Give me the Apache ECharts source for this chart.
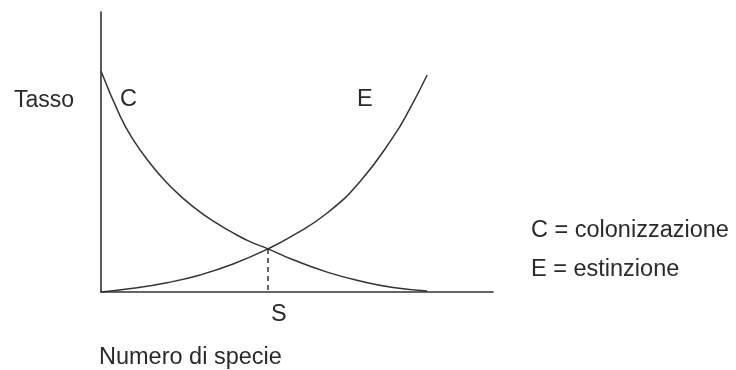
<!DOCTYPE html>
<html>
<head>
<meta charset="utf-8">
<script src="https://cdn.jsdelivr.net/npm/echarts@6/dist/echarts.min.js"></script>
<style>html,body{margin:0;padding:0;background:#fff}#c{width:736px;height:370px}</style>
</head>
<body>
<div id="c"></div>
<script>
// Colonizzazione (C): [numero di specie, tasso]
var colonizzazione = [[0,78.9],[4.85,62.9],[8.16,54.5],[12.5,46.0],[16.8,39.0],[20.9,33.5],[25.3,28.5],[29.6,24.5],[33.7,21.1],[38.0,18.0],[42.6,15.4],[49.0,11.5],[57.7,7.1],[66.1,3.9],[74.5,1.6],[83.2,0.4]];
// Estinzione (E)
var estinzione = [[0,0],[8.2,1.3],[16.8,3.3],[25.3,6.1],[33.7,10.0],[42.6,15.4],[49.0,20.2],[57.7,28.2],[66.1,39.5],[74.5,55.3],[78.8,65.5],[83.2,77.5]];
// Equilibrio S
var equilibrio = [[42.6,15.4],[42.6,0]];
var labels = {yName:'Tasso', xName:'Numero di specie', s:'S', c:'C', e:'E', legC:'C = colonizzazione', legE:'E = estinzione'};

var FONT = '23.5px "Liberation Sans", Arial, sans-serif';
var TXT = '#2a2a2a';
var chart = echarts.init(document.getElementById('c'));
chart.setOption({
  animation:false,
  backgroundColor:'#fff',
  grid:{left:101,right:243,top:12,bottom:78},
  xAxis:{type:'value',min:0,max:100,axisLine:{show:true,lineStyle:{color:'#333',width:1.6}},axisTick:{show:false},axisLabel:{show:false},splitLine:{show:false}},
  yAxis:{type:'value',min:0,max:100,axisLine:{show:true,lineStyle:{color:'#333',width:1.6}},axisTick:{show:false},axisLabel:{show:false},splitLine:{show:false}},
  series:[
    {type:'line',data:colonizzazione,smooth:0.5,symbol:'none',lineStyle:{color:'#333',width:1.5}},
    {type:'line',data:estinzione,smooth:0.5,symbol:'none',lineStyle:{color:'#333',width:1.5}},
    {type:'line',data:equilibrio,symbol:'none',lineStyle:{color:'#222',width:1.4,type:[5,4]}}
  ],
  graphic:[
    {type:'text',left:14,top:89,style:{text:labels.yName,font:'23px "Liberation Sans", Arial, sans-serif',fill:TXT}},
    {type:'text',left:120,top:88,style:{text:labels.c,font:FONT,fill:TXT}},
    {type:'text',left:357,top:88,style:{text:labels.e,font:FONT,fill:TXT}},
    {type:'text',left:271,top:303,style:{text:labels.s,font:FONT,fill:TXT}},
    {type:'text',left:99,top:346,style:{text:labels.xName,font:FONT,fill:TXT}},
    {type:'text',left:531,top:219,style:{text:labels.legC,font:FONT,fill:TXT}},
    {type:'text',left:531,top:258,style:{text:labels.legE,font:FONT,fill:TXT}}
  ]
});
</script>
</body>
</html>
